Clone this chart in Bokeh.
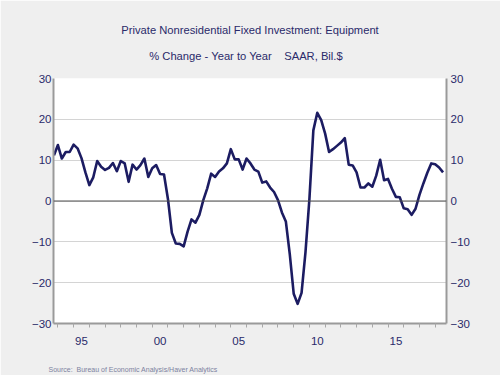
from bokeh.plotting import figure
from bokeh.models import (Range1d, LinearAxis, FixedTicker, Span)
from bokeh.embed import file_html
from bokeh.resources import INLINE

# ---- data (quarterly, % change year to year) ----
start_year = 1993
start_quarter = 4
values = [
    11.2, 13.7, 10.4, 12.0, 12.0, 13.8, 12.9, 10.5, 7.0, 3.9,
    5.8, 9.8, 8.4, 7.6, 8.1, 9.3, 7.3, 9.8, 9.2, 4.7,
    8.9, 7.7, 8.8, 10.4, 5.9, 8.0, 8.8, 6.6, 6.5, 0.5,
    -7.8, -10.4, -10.5, -11.1, -7.5, -4.5, -5.3, -3.4, 0.2, 3.1,
    6.7, 5.9, 7.2, 8.0, 9.2, 12.7, 10.2, 10.2, 7.7, 10.4,
    9.2, 7.7, 7.2, 4.5, 4.8, 3.3, 2.2, 0.2, -2.8, -5.0,
    -13.0, -22.7, -25.2, -22.5, -12.5, 0.5, 17.3, 21.6, 19.8, 16.5,
    12.0, 12.7, 13.5, 14.3, 15.4, 8.9, 8.7, 7.0, 3.3, 3.3,
    4.3, 3.5, 6.2, 10.1, 5.1, 5.4, 3.0, 1.0, 0.9, -1.8,
    -2.0, -3.4, -1.9, 1.5, 4.3, 6.9, 9.2, 9.0, 8.2, 7.0,
]
y_ticks = [-30, -20, -10, 0, 10, 20, 30]
x_label_years = [1995, 2000, 2005, 2010, 2015]
x_labels = ["95", "00", "05", "10", "15"]
title_text = "Private Nonresidential Fixed Investment: Equipment"
subtitle_text = "% Change - Year to Year\u00a0\u00a0\u00a0\u00a0SAAR, Bil.$"
source_text = "Source:\u00a0\u00a0Bureau of Economic Analysis/Haver Analytics"

NBSP = "\u00a0"

# quarter positions in decimal years
t = [start_year + (start_quarter - 1) / 4 + i / 4 for i in range(len(values))]

BG = "#efefef"
NAVY = "#1c1c62"
TXT = "#2a2a6a"
FONT = "Liberation Sans"

# two-line title; the second line is indented so that it sits centred
p = figure(width=500, height=375, output_backend="svg", toolbar_location=None,
           x_range=Range1d(1993.72, 2018.72), y_range=Range1d(-30, 30),
           title=title_text + "\n" + NBSP * 9 + subtitle_text)
p.background_fill_color = "white"
p.border_fill_color = BG
p.outline_line_color = None
p.min_border_left = 53
p.min_border_right = 54
p.min_border_top = 78
p.min_border_bottom = 51

p.title.align = "center"
p.title.text_font = FONT
p.title.text_font_size = "11.2px"
p.title.text_font_style = "normal"
p.title.text_color = TXT
p.title.text_line_height = 2.15
p.title.standoff = 33

# y axes
yticker = FixedTicker(ticks=y_ticks)
p.yaxis.ticker = yticker
right_axis = LinearAxis(ticker=yticker)
p.add_layout(right_axis, "right")
for ax, so in [(p.yaxis[0], 2), (right_axis, 4)]:
    ax.axis_line_color = "#9a9a9a"
    ax.axis_line_width = 2
    ax.major_tick_line_color = None
    ax.minor_tick_line_color = None
    ax.major_tick_out = 0
    ax.major_tick_in = 0
    ax.major_label_standoff = so
    ax.major_label_text_font = FONT
    ax.major_label_text_font_size = "11.5px"
    ax.major_label_text_color = TXT

# x axis: labels centred in the year, ticks at each year; source as axis label
label_pos = [y + 0.5 for y in x_label_years]
xt = FixedTicker(ticks=label_pos, minor_ticks=list(range(1994, 2019)))
xa = p.xaxis[0]
xa.ticker = xt
xa.major_label_overrides = {pos: lab for pos, lab in zip(label_pos, x_labels)}
xa.axis_line_color = "#9a9a9a"
xa.axis_line_width = 2
xa.major_tick_line_color = None
xa.major_tick_out = 0
xa.major_tick_in = 0
xa.minor_tick_line_color = "#a8a8a8"
xa.minor_tick_out = 4
xa.minor_tick_in = 0
xa.major_label_standoff = 9
xa.major_label_text_font = FONT
xa.major_label_text_font_size = "11.5px"
xa.major_label_text_color = TXT
# centred label, padded on the right so that its text starts at the frame's left edge
xa.axis_label = source_text + NBSP * 120
xa.axis_label_text_font = FONT
xa.axis_label_text_font_size = "7px"
xa.axis_label_text_font_style = "normal"
xa.axis_label_text_color = "#7c82a0"
xa.axis_label_standoff = 18
xa.axis_label_align = "center"

p.xgrid.grid_line_color = None
p.ygrid.ticker = yticker
p.ygrid.grid_line_color = "#d4d4d4"
p.ygrid.grid_line_width = 1

p.add_layout(Span(location=0, dimension="width", line_color="#505050", line_width=1))

p.line(t, values, line_color=NAVY, line_width=2.6, line_join="round")

open("out.html", "w").write(file_html(p, INLINE))
